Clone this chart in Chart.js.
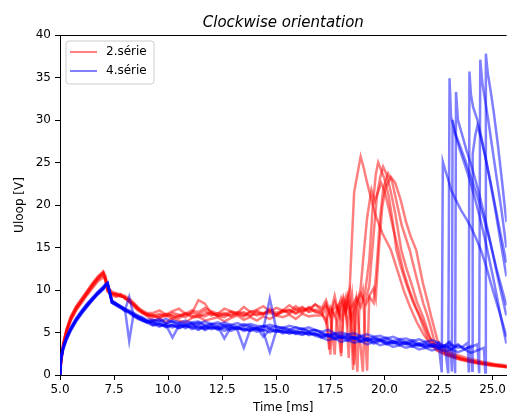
<!DOCTYPE html>
<html><head><meta charset="utf-8">
<script src="https://cdn.jsdelivr.net/npm/chart.js@4"></script>
<style>html,body{margin:0;padding:0;background:#fff;}canvas{display:block;}</style>
</head><body>
<canvas id="c" width="509" height="414" style="width:509px;height:414px"></canvas>
<script>
// ---------- data ----------
const TITLE = 'Clockwise orientation';
const X_LABEL = 'Time [ms]';
const Y_LABEL = 'Uloop [V]';
const SERIES_NAMES = ['2.série', '4.série'];
const X_TICKS = [5.0, 7.5, 10.0, 12.5, 15.0, 17.5, 20.0, 22.5, 25.0];
const Y_TICKS = [0, 5, 10, 15, 20, 25, 30, 35, 40];

// shared time grid of the first part of every discharge [ms]
const TIME_EARLY = [5.0,5.05,5.15,5.3,5.5,5.75,6.0,6.25,6.5,6.75,7.0,7.1,7.2,7.4,7.6,7.8,8.0,8.2,8.4,8.6,8.8,9.0,9.3,9.6,9.9,10.2,10.5,10.8,11.1,11.4,11.7,12.0,12.3,12.6,12.9,13.2,13.5,13.8,14.1,14.4,14.7,15.0,15.3,15.6,15.9,16.2,16.5,16.8];

// ----- 2.série (red) : early values on TIME_EARLY, late part as [t, U] -----
const red1Early = [0,1.8,3.8,5.4,6.9,8.1,9.0,9.9,10.8,11.6,12.2,11.7,10.4,9.8,9.6,9.5,9.3,9.0,8.5,8.0,7.6,7.3,
  7.3,7.6,7.1,7.5,7.8,7.2,7.6,7.4,7.9,7.5,7.2,7.8,7.5,7.3,8.0,7.4,7.7,8.1,7.5,7.9,7.6,8.2,7.7,8.0,7.5,8.3];
const red1Late = [[17.1,7.6],[17.3,8.2],[17.5,7.0],[17.7,8.6],[17.9,7.4],[18.1,9.2],[18.25,7.8],[18.4,10.5],[18.5,16.0],[18.6,21.5],[18.75,23.6],[18.9,25.7],[19.05,24.3],[19.2,22.6],[19.4,20.6],[19.6,18.7],[19.9,16.7],[20.3,14.7],[20.6,12.3],[20.9,9.9],[21.2,7.9],[21.5,6.2],[21.8,4.8],[22.1,3.7],[22.4,2.9],[22.8,2.4],[23.3,2.0],[23.9,1.6],[24.5,1.3],[25.1,1.1],[25.7,0.9]];

const red2Early = [0,1.5,3.5,5.1,6.6,7.8,8.7,9.6,10.5,11.3,11.9,11.3,10.0,9.6,9.4,9.3,9.1,8.8,8.3,7.8,7.4,7.1,
  7.1,6.7,7.0,6.6,7.0,7.2,6.8,7.1,6.9,7.3,7.0,6.8,7.3,7.1,6.9,7.4,7.0,7.2,7.5,7.1,7.6,7.2,7.7,7.3,8.0,7.5];
const red2Late = [[17.1,7.3],[17.3,6.5],[17.45,3.0],[17.6,7.6],[17.8,8.1],[18.0,6.6],[18.2,8.9],[18.35,2.0],[18.45,7.8],[18.7,9.1],[18.9,8.0],[19.1,9.6],[19.3,13.5],[19.45,19.5],[19.6,23.6],[19.71,25.0],[19.85,24.1],[20.0,23.1],[20.2,21.0],[20.4,17.8],[20.55,14.7],[20.75,12.8],[21.0,10.8],[21.3,8.7],[21.6,7.0],[22.0,4.3],[22.4,3.0],[22.9,2.3],[23.5,1.8],[24.2,1.4],[25.0,1.1],[25.7,0.9]];

const red3Early = [0,1.7,3.6,5.3,6.7,7.9,8.8,9.7,10.6,11.4,12.0,11.0,9.8,9.5,9.6,9.2,9.2,8.7,8.4,7.9,7.3,7.2,
  6.8,7.0,7.2,6.9,6.7,7.1,7.3,8.8,8.4,7.2,7.0,7.3,6.9,7.2,7.4,7.0,7.2,7.3,7.6,7.1,7.4,7.6,7.3,7.9,7.4,7.7];
const red3Late = [[17.1,7.5],[17.3,8.4],[17.5,6.8],[17.7,2.4],[17.8,7.2],[18.0,9.0],[18.2,7.3],[18.4,9.8],[18.55,0.6],[18.65,8.2],[18.9,9.6],[19.1,8.4],[19.3,10.5],[19.5,16.5],[19.65,21.0],[19.8,23.2],[19.94,24.5],[20.1,23.6],[20.3,21.5],[20.5,19.0],[20.78,14.7],[21.0,12.7],[21.24,10.8],[21.5,8.6],[21.78,6.9],[22.15,4.1],[22.5,3.1],[23.0,2.4],[23.6,1.9],[24.3,1.5],[25.0,1.2],[25.7,1.0]];

const red4Early = [0,1.4,3.3,5.0,6.4,7.6,8.5,9.4,10.2,11.0,11.5,11.2,9.9,9.3,9.2,9.4,9.0,8.6,8.1,7.6,7.3,7.0,
  6.4,6.6,6.2,6.7,6.4,6.2,6.7,6.9,6.4,6.6,6.8,6.3,6.7,7.0,6.5,6.8,6.4,6.9,6.6,7.0,6.8,7.1,6.6,7.2,6.9,7.0];
const red4Late = [[17.1,7.0],[17.3,7.8],[17.5,2.4],[17.6,7.4],[17.8,6.4],[18.0,2.2],[18.1,7.0],[18.3,8.4],[18.5,6.5],[18.7,9.0],[19.0,0.4],[19.1,8.0],[19.3,9.2],[19.5,8.5],[19.65,13.0],[19.8,18.5],[19.95,22.0],[20.17,23.7],[20.35,22.8],[20.55,20.5],[20.8,17.6],[21.17,14.7],[21.35,12.8],[21.55,10.8],[21.8,8.4],[22.0,6.9],[22.3,4.1],[22.6,3.1],[23.1,2.4],[23.7,1.9],[24.4,1.5],[25.1,1.2],[25.7,1.0]];

const red5Early = [0,1.6,3.7,5.2,6.8,8.0,8.9,9.8,10.7,11.5,12.1,11.5,10.2,9.7,9.3,9.5,9.0,8.9,8.2,7.7,7.5,7.2,
  7.0,7.2,6.9,7.3,7.1,6.8,7.4,7.1,7.6,7.0,7.3,7.1,7.5,7.2,7.0,7.5,7.4,7.1,7.8,7.3,7.6,7.4,8.1,7.5,7.8,8.3];
const red5Late = [[17.1,7.9],[17.3,8.8],[17.5,7.2],[17.7,9.3],[17.9,6.9],[18.1,8.7],[18.3,6.0],[18.5,9.5],[18.75,0.4],[18.85,8.6],[19.0,10.0],[19.2,0.5],[19.3,9.3],[19.5,10.2],[19.6,9.0],[19.75,15.0],[19.9,19.8],[20.05,22.0],[20.3,23.3],[20.5,22.6],[20.75,20.6],[21.0,18.0],[21.2,16.4],[21.47,14.7],[21.62,12.8],[21.78,10.8],[22.0,8.6],[22.16,6.9],[22.45,4.1],[22.7,3.2],[23.2,2.5],[23.8,2.0],[24.5,1.6],[25.1,1.3],[25.7,1.1]];

const red6Early = [0,1.5,3.4,5.1,6.5,7.7,8.6,9.5,10.4,11.2,11.8,11.3,10.1,9.5,9.5,9.3,9.1,8.6,8.3,7.8,7.4,7.0,
  6.9,6.8,7.1,7.0,6.9,7.3,7.0,6.8,7.2,7.4,6.9,7.1,7.0,7.4,7.2,6.9,7.6,7.2,7.3,7.0,7.5,7.7,7.2,7.6,7.9,7.4];
const red6Late = [[17.1,7.2],[17.3,6.2],[17.5,8.0],[17.7,7.1],[17.9,8.3],[18.0,2.6],[18.1,7.7],[18.3,9.4],[18.45,7.0],[18.6,1.2],[18.7,8.0],[18.9,10.2],[19.05,14.5],[19.2,18.5],[19.4,21.8],[19.55,20.4],[19.7,21.5],[19.85,22.6],[20.0,21.7],[20.2,19.6],[20.4,17.3],[20.65,14.7],[20.9,12.0],[21.15,10.0],[21.45,8.0],[21.75,6.4],[22.05,4.6],[22.4,3.3],[22.9,2.5],[23.5,1.9],[24.2,1.5],[25.0,1.2],[25.7,1.0]];

// ----- 4.série (blue) -----
const blue1Early = [0,2.2,3.4,4.5,5.6,6.7,7.6,8.4,9.1,9.8,10.4,10.7,10.9,8.7,8.4,8.1,7.8,7.6,7.3,7.0,6.8,6.5,
  6.5,6.3,6.6,6.2,6.1,6.4,6.1,6.0,6.3,6.0,5.9,6.2,5.9,6.1,5.8,6.0,5.8,5.7,5.9,5.7,5.5,5.8,5.6,5.4,5.6,5.3];
const blue1Late = [[17.1,5.1],[17.4,5.3],[17.7,4.9],[18.0,5.0],[18.3,4.8],[18.6,4.9],[18.9,4.6],[19.2,4.8],[19.5,4.5],[19.8,4.6],[20.1,4.3],[20.4,4.5],[20.7,4.2],[21.0,4.3],[21.3,4.0],[21.6,4.2],[21.9,3.9],[22.2,4.1],[22.5,3.8],[22.65,0.3],[22.7,25.1],[22.8,24.2],[22.95,23.0],[23.08,21.8],[23.3,20.6],[23.54,19.4],[23.8,18.3],[24.0,17.4],[24.25,16.0],[24.46,14.7],[24.7,12.8],[24.92,10.8],[25.15,8.8],[25.38,6.9],[25.64,4.5]];

const blue2Early = [0,2.0,3.2,4.3,5.4,6.5,7.4,8.2,8.9,9.6,10.2,10.5,10.7,8.6,8.3,8.0,7.7,7.4,7.1,6.8,6.6,6.3,
  6.4,6.6,6.1,6.4,6.2,5.9,6.2,6.3,5.9,6.0,6.2,5.8,5.9,5.7,6.0,5.8,5.5,5.8,5.6,5.7,5.5,5.3,5.6,5.4,5.2,5.3];
const blue2Late = [[17.1,4.9],[17.4,4.6],[17.7,4.8],[18.0,4.4],[18.3,4.6],[18.6,4.3],[18.9,4.5],[19.2,4.1],[19.5,4.3],[19.8,4.0],[20.1,4.2],[20.4,3.8],[20.7,4.0],[21.0,3.7],[21.3,3.9],[21.6,3.5],[21.9,3.7],[22.2,3.4],[22.5,3.6],[22.8,3.2],[22.95,0.2],[23.01,34.9],[23.08,30.4],[23.31,28.0],[23.5,26.4],[23.7,24.9],[23.95,22.9],[24.16,21.0],[24.4,18.7],[24.62,16.3],[24.85,13.6],[25.08,10.8],[25.35,7.2],[25.64,3.7]];

const blue3Early = [0,1.8,3.0,4.1,5.2,6.3,7.2,8.0,8.8,9.5,10.1,10.4,10.6,8.5,8.2,7.9,7.6,9.2,7.0,6.6,6.4,6.2,
  6.3,5.8,5.9,4.4,5.8,5.7,6.1,5.4,5.8,5.5,5.7,4.3,5.6,5.4,5.5,5.2,5.6,4.5,5.3,5.1,5.3,5.2,4.8,5.1,5.0,4.7];
const blue3Late = [[17.1,4.8],[17.4,4.5],[17.7,4.7],[18.0,4.3],[18.3,4.5],[18.6,4.2],[18.9,4.4],[19.2,4.0],[19.5,4.3],[19.8,4.1],[20.1,3.8],[20.4,4.0],[20.7,3.7],[21.0,3.9],[21.3,3.5],[21.6,3.7],[21.9,3.4],[22.2,3.6],[22.5,3.3],[22.8,3.5],[23.0,3.9],[23.2,3.3],[23.27,0.2],[23.31,33.3],[23.4,30.0],[23.6,28.2],[23.8,26.4],[24.0,24.8],[24.2,23.0],[24.4,21.1],[24.6,19.0],[24.8,16.8],[25.0,14.4],[25.3,10.8],[25.64,7.0]];

const blue4Early = [0,2.1,3.3,4.4,5.5,6.6,7.5,8.3,9.0,9.7,10.3,10.6,10.8,8.8,8.4,8.1,7.8,4.0,7.2,6.9,6.7,6.4,
  5.9,6.0,5.6,5.9,5.7,5.9,5.4,5.7,5.5,5.8,5.3,5.6,5.7,5.3,3.2,5.4,5.5,5.3,5.4,5.1,5.2,4.9,5.1,5.0,4.8,4.9];
const blue4Late = [[17.1,4.6],[17.4,4.8],[17.7,4.4],[18.0,4.7],[18.3,4.3],[18.6,4.5],[18.9,4.1],[19.2,4.3],[19.5,4.0],[19.8,4.2],[20.1,3.9],[20.4,3.7],[20.7,3.9],[21.0,3.6],[21.3,3.8],[21.6,3.4],[21.9,3.6],[22.2,3.3],[22.5,3.5],[22.8,3.1],[23.1,3.6],[23.4,3.2],[23.6,3.3],[23.85,3.8],[23.9,0.3],[23.93,35.7],[24.0,33.0],[24.1,31.5],[24.3,30.0],[24.5,27.8],[24.7,25.2],[24.9,22.6],[25.1,19.8],[25.35,16.0],[25.64,11.6]];

const blue5Early = [0,1.9,3.1,4.2,5.3,6.4,7.3,8.1,8.8,9.5,10.1,10.5,10.7,8.5,8.2,7.9,7.5,7.3,6.9,6.7,6.4,6.2,
  6.2,6.0,5.8,5.6,6.0,5.5,5.9,5.6,5.4,5.7,5.5,5.8,5.4,5.6,5.3,5.6,5.3,5.4,9.0,5.4,5.0,5.2,5.1,4.8,5.0,4.8];
const blue5Late = [[17.1,4.5],[17.4,4.7],[17.7,4.3],[18.0,4.5],[18.3,4.2],[18.6,4.4],[18.9,4.0],[19.2,4.2],[19.5,3.9],[19.8,4.1],[20.1,3.7],[20.4,3.9],[20.7,3.6],[21.0,3.8],[21.3,3.5],[21.6,3.6],[21.9,3.3],[22.2,3.5],[22.5,3.2],[22.8,3.4],[23.1,3.0],[23.4,3.5],[23.7,3.1],[24.0,3.3],[24.3,3.6],[24.38,0.2],[24.43,37.1],[24.52,34.5],[24.65,32.4],[24.8,30.0],[25.0,26.5],[25.2,23.0],[25.4,19.6],[25.64,15.0]];

const blue6Early = [0,2.0,3.2,4.4,5.4,6.5,7.4,8.2,9.0,9.6,10.2,10.6,10.8,8.6,8.3,8.0,7.7,7.5,7.1,6.8,6.5,6.3,
  6.0,5.7,6.0,5.8,5.5,5.8,5.6,5.9,5.3,5.6,5.4,5.6,5.2,5.5,5.4,5.2,5.5,5.1,2.7,5.2,5.1,4.9,5.0,5.1,4.7,4.9];
const blue6Late = [[17.1,4.4],[17.4,4.1],[17.7,4.3],[18.0,3.9],[18.3,4.1],[18.6,3.8],[18.9,4.0],[19.2,3.6],[19.5,3.9],[19.8,3.5],[20.1,3.7],[20.4,3.3],[20.7,3.5],[21.0,3.2],[21.3,3.4],[21.6,3.0],[21.9,3.2],[22.2,2.9],[22.5,3.1],[22.8,2.8],[23.1,3.0],[23.4,2.7],[23.7,3.0],[24.0,2.6],[24.3,2.9],[24.6,3.2],[24.66,0.3],[24.69,37.8],[24.78,35.5],[24.9,33.6],[25.05,31.0],[25.25,27.0],[25.45,22.5],[25.64,18.0]];

const blue7Early = [0,1.9,3.3,4.4,5.5,6.5,7.4,8.3,9.0,9.7,10.3,10.6,10.8,8.7,8.4,8.0,7.7,7.4,7.1,6.9,6.6,6.4,
  6.2,6.4,6.0,6.3,5.8,6.1,5.9,6.2,5.7,6.0,5.6,5.9,5.7,5.5,5.8,5.6,5.4,5.7,5.5,5.3,5.6,5.4,5.2,5.5,5.1,5.3];
const blue7Late = [[17.1,5.0],[17.4,4.7],[17.7,4.9],[18.0,4.6],[18.3,4.8],[18.6,4.4],[18.9,4.6],[19.2,4.3],[19.5,4.5],[19.8,4.2],[20.1,4.4],[20.4,4.0],[20.7,4.2],[21.0,3.9],[21.3,4.1],[21.6,3.7],[21.9,3.9],[22.2,3.6],[22.5,3.8],[22.8,3.4],[23.05,3.9],[23.12,0.4],[23.15,30.0],[23.25,28.6],[23.4,27.6],[23.7,25.5],[24.0,23.3],[24.3,21.0],[24.6,18.4],[24.9,15.5],[25.2,12.3],[25.64,8.2]];

const blue8Early = [0,2.1,3.1,4.3,5.4,6.5,7.3,8.1,8.9,9.6,10.2,10.5,10.7,8.5,8.3,8.0,7.6,7.4,7.0,6.7,6.5,6.2,
  5.8,6.1,5.7,5.9,5.5,5.8,5.6,5.3,5.7,5.4,5.6,5.2,5.5,5.6,5.2,5.4,5.1,5.3,5.0,5.3,4.9,5.1,4.9,4.7,5.0,4.6];
const blue8Late = [[17.1,4.4],[17.4,4.6],[17.7,4.2],[18.0,4.4],[18.3,4.0],[18.6,4.3],[18.9,3.9],[19.2,4.1],[19.5,3.7],[19.8,4.0],[20.1,3.6],[20.4,3.8],[20.7,3.5],[21.0,3.7],[21.3,3.3],[21.6,3.6],[21.9,3.2],[22.2,3.4],[22.5,3.1],[22.8,3.5],[23.1,3.1],[23.4,3.6],[23.7,3.0],[24.0,3.4],[24.05,0.5],[24.08,26.0],[24.2,28.2],[24.3,29.3],[24.45,28.0],[24.7,25.3],[25.0,21.5],[25.3,17.5],[25.64,13.2]];

// ---------- chart ----------
const FONT = 'DejaVu Sans';
const RED = 'rgba(255,0,0,0.5)';
const BLUE = 'rgba(0,0,255,0.5)';

function trace(early, late) {
  const pts = TIME_EARLY.map((t, i) => ({ x: t, y: early[i] }));
  late.forEach(([t, v]) => pts.push({ x: t, y: v }));
  return pts;
}
const redTraces = [[red1Early, red1Late],[red2Early, red2Late],[red3Early, red3Late],[red4Early, red4Late],[red5Early, red5Late],[red6Early, red6Late]];
const blueTraces = [[blue1Early, blue1Late],[blue2Early, blue2Late],[blue3Early, blue3Late],[blue4Early, blue4Late],[blue5Early, blue5Late],[blue6Early, blue6Late],[blue7Early, blue7Late],[blue8Early, blue8Late]];

const datasets = [];
blueTraces.forEach(([e, l]) => datasets.push({ label: SERIES_NAMES[1], data: trace(e, l), borderColor: BLUE, borderWidth: 2.5, pointRadius: 0, tension: 0, fill: false }));
redTraces.forEach(([e, l]) => datasets.push({ label: SERIES_NAMES[0], data: trace(e, l), borderColor: RED, borderWidth: 2.5, pointRadius: 0, tension: 0, fill: false }));

const overlay = {
  id: 'overlay',
  afterDraw(chart) {
    const { ctx, chartArea: a } = chart;
    ctx.save();
    // top spine
    ctx.strokeStyle = '#000'; ctx.lineWidth = 1;
    ctx.beginPath(); ctx.moveTo(a.left, a.top + 0.5); ctx.lineTo(a.right, a.top + 0.5); ctx.stroke();
    // legend box
    const bx = a.left + 6, by = a.top + 6, bw = 88, bh = 43, r = 3;
    ctx.beginPath();
    ctx.moveTo(bx + r, by); ctx.lineTo(bx + bw - r, by); ctx.arcTo(bx + bw, by, bx + bw, by + r, r);
    ctx.lineTo(bx + bw, by + bh - r); ctx.arcTo(bx + bw, by + bh, bx + bw - r, by + bh, r);
    ctx.lineTo(bx + r, by + bh); ctx.arcTo(bx, by + bh, bx, by + bh - r, r);
    ctx.lineTo(bx, by + r); ctx.arcTo(bx, by, bx + r, by, r); ctx.closePath();
    ctx.fillStyle = 'rgba(255,255,255,0.8)'; ctx.fill();
    ctx.strokeStyle = '#cccccc'; ctx.lineWidth = 1; ctx.stroke();
    const items = [[SERIES_NAMES[0], RED], [SERIES_NAMES[1], BLUE]];
    items.forEach(([txt, col], i) => {
      const y = by + 11 + i * 19;
      ctx.strokeStyle = col; ctx.lineWidth = 2;
      ctx.beginPath(); ctx.moveTo(bx + 4, y); ctx.lineTo(bx + 31, y); ctx.stroke();
      ctx.fillStyle = '#000'; ctx.font = '12px "' + FONT + '"';
      ctx.textBaseline = 'middle'; ctx.textAlign = 'left';
      ctx.fillText(txt, bx + 40, y);
    });
    ctx.restore();
  }
};

new Chart(document.getElementById('c'), {
  type: 'line',
  data: { datasets },
  plugins: [overlay],
  options: {
    responsive: false, animation: false, devicePixelRatio: 1,
    layout: { padding: 0 },
    plugins: {
      legend: { display: false }, tooltip: { enabled: false },
      title: { display: true, text: TITLE, fullSize: false, color: '#000',
        font: { family: FONT, size: 15, style: 'italic', weight: 'normal', lineHeight: 1.2 },
        padding: { top: 14, bottom: 3 } }
    },
    scales: {
      x: {
        type: 'linear', min: 5, max: 25.65,
        afterFit(s) { s.height = 39; },
        afterBuildTicks(s) { s.ticks = X_TICKS.map(v => ({ value: v })); },
        ticks: { callback: v => Number(v).toFixed(1), font: { family: FONT, size: 12 }, color: '#000', padding: 3, maxRotation: 0, autoSkip: false },
        grid: { drawOnChartArea: false, drawTicks: true, tickLength: 5, color: '#000' },
        border: { display: true, color: '#000', width: 1 },
        title: { display: true, text: X_LABEL, color: '#000', font: { family: FONT, size: 12, lineHeight: 1 }, padding: { top: 0, bottom: 0 } }
      },
      y: {
        type: 'linear', min: 0, max: 40,
        afterFit(s) { s.width = 60; },
        afterBuildTicks(s) { s.ticks = Y_TICKS.map(v => ({ value: v })); },
        ticks: { callback: v => String(v), font: { family: FONT, size: 12 }, color: '#000', padding: 4 },
        grid: { drawOnChartArea: false, drawTicks: true, tickLength: 5, color: '#000' },
        border: { display: true, color: '#000', width: 1 },
        title: { display: true, text: Y_LABEL, color: '#000', font: { family: FONT, size: 12, lineHeight: 1.2 }, padding: { top: 13, bottom: 0 } }
      }
    }
  }
});
</script>
</body></html>
